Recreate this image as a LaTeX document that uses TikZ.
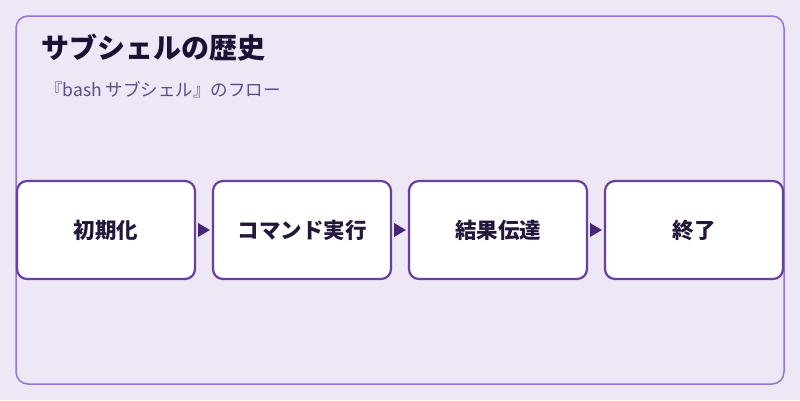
\documentclass[tikz,border=0pt]{standalone}
\usepackage{fontspec}
\setmainfont{Noto Sans CJK JP}
\usetikzlibrary{arrows.meta}
\definecolor{bg}{HTML}{EDE7F6}
\definecolor{frame}{HTML}{9575CD}
\definecolor{boxline}{HTML}{6A3FA0}
\definecolor{arrowc}{HTML}{4A2577}
\definecolor{titlec}{HTML}{1E1034}
\definecolor{subc}{HTML}{5E4B8B}
\definecolor{labelc}{HTML}{24173A}
\tikzset{
  stepbox/.style={draw=boxline, line width=2.2pt, fill=white, rounded corners=10pt,
    minimum width=178pt, minimum height=98pt, inner sep=0pt,
    font=\fontsize{21.5pt}{24pt}\selectfont\bfseries, text=labelc}
}
\begin{document}
\begin{tikzpicture}[x=1pt,y=-1pt]
\useasboundingbox (0,0) rectangle (800,400);
\fill[bg] (0,0) rectangle (800,400);
\draw[frame, line width=1.5pt, rounded corners=12pt] (16,16) rectangle (784,384);
\node[anchor=base west, text=titlec, font=\fontsize{28pt}{32pt}\selectfont\bfseries, inner sep=0pt] (title) at (41,58) {サブシェルの歴史};
\node[anchor=base west, text=subc, font=\fontsize{17.5pt}{20pt}\selectfont, inner sep=0pt] (sub) at (45,96) {『bash サブシェル』のフロー};
\node[stepbox] (s1) at (106,230) {初期化};
\node[stepbox] (s2) at (302,230) {コマンド実行};
\node[stepbox] (s3) at (498,230) {結果伝達};
\node[stepbox] (s4) at (694,230) {終了};
\foreach \a/\b in {s1/s2,s2/s3,s3/s4}{
  \fill[arrowc] ([xshift=2pt,yshift=-7pt]\a.east) -- ([xshift=-2pt]\b.west) -- ([xshift=2pt,yshift=7pt]\a.east) -- cycle;
}
\end{tikzpicture}
\end{document}
